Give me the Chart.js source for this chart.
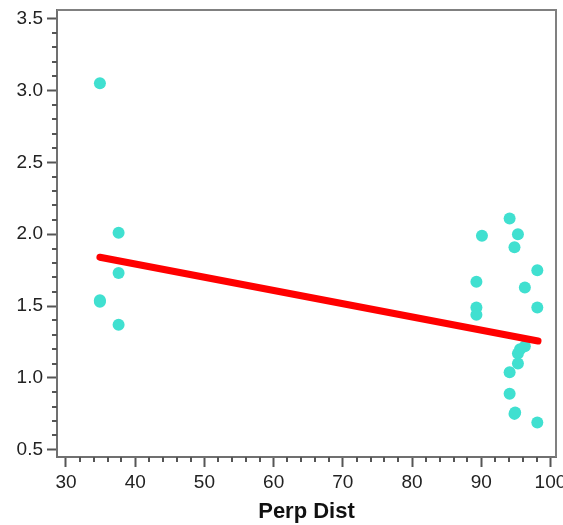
<!DOCTYPE html>
<html>
<head>
<meta charset="utf-8">
<script src="https://cdn.jsdelivr.net/npm/chart.js@4.4.0/dist/chart.umd.min.js"></script>
<style>
  html, body { margin: 0; padding: 0; background: #fff; }
  #wrap { width: 563px; height: 525px; }
</style>
</head>
<body>
<div id="wrap"><canvas id="chart" width="563" height="525"></canvas></div>
<script>
// datos
const perpDist = [34.9, 34.9, 34.9, 37.6, 37.6, 37.6,
  94.1, 90.1, 95.3, 94.8, 98.1, 89.3, 96.3, 98.1, 89.3, 89.3,
  96.3, 95.6, 95.3, 95.3, 94.1, 94.1, 94.8, 94.9, 98.1];
const valores = [3.05, 1.54, 1.53, 2.01, 1.73, 1.37,
  2.11, 1.99, 2.00, 1.91, 1.75, 1.67, 1.63, 1.49, 1.49, 1.44,
  1.22, 1.20, 1.17, 1.10, 1.04, 0.89, 0.75, 0.76, 0.69];
// recta de ajuste (extremos)
const ajusteX = [34.9, 98.2];
const ajusteY = [1.84, 1.257];

const xTicks = [30, 40, 50, 60, 70, 80, 90, 100];
const yTicks = [0.5, 1.0, 1.5, 2.0, 2.5, 3.0, 3.5];

const puntos = perpDist.map((x, i) => ({ x, y: valores[i] }));
const recta = ajusteX.map((x, i) => ({ x, y: ajusteY[i] }));

// ticks menores + marco
const marcoPlugin = {
  id: 'marco',
  afterDraw(chart) {
    const { ctx, chartArea: a, scales } = chart;
    ctx.save();
    ctx.strokeStyle = '#555';
    ctx.lineWidth = 2;
    ctx.beginPath();
    for (let v = 30; v <= 100; v += 2) {
      if (v % 10 === 0) continue;
      const px = Math.round(scales.x.getPixelForValue(v));
      ctx.moveTo(px, a.bottom); ctx.lineTo(px, a.bottom + 5);
    }
    for (let k = 5; k <= 35; k++) {
      if (k % 5 === 0) continue;
      const py = Math.round(scales.y.getPixelForValue(k / 10));
      ctx.moveTo(a.left - 5, py); ctx.lineTo(a.left, py);
    }
    ctx.stroke();
    ctx.strokeStyle = '#808080';
    ctx.beginPath();
    ctx.moveTo(a.left, a.top); ctx.lineTo(a.right, a.top); ctx.lineTo(a.right, a.bottom);
    ctx.stroke();
    ctx.restore();
  }
};

const fuente = { family: 'Arial, "Liberation Sans", sans-serif', size: 19 };

new Chart(document.getElementById('chart'), {
  type: 'scatter',
  data: {
    datasets: [
      { type: 'line', data: recta, borderColor: '#ff0000', borderWidth: 7, borderCapStyle: 'round',
        pointRadius: 0, fill: false, tension: 0 },
      { data: puntos, backgroundColor: '#40e0d0', borderWidth: 0, pointRadius: 6, pointHoverRadius: 6 }
    ]
  },
  options: {
    responsive: false,
    animation: false,
    layout: { padding: { top: 10, right: 7, left: 0, bottom: 0 } },
    plugins: { legend: { display: false }, tooltip: { enabled: false } },
    scales: {
      x: {
        type: 'linear', min: 28.7, max: 100.8,
        afterBuildTicks: s => { s.ticks = xTicks.map(v => ({ value: v })); },
        afterFit: s => { s.height = 68; s.paddingRight = 0; s.paddingLeft = 0; },
        grid: { drawOnChartArea: false, tickLength: 10, tickColor: '#555', tickWidth: 2 },
        border: { color: '#707070', width: 2 },
        ticks: { color: '#222', font: fuente, padding: 4, maxRotation: 0, autoSkip: false },
        title: { display: true, text: 'Perp Dist', color: '#111',
          font: { family: 'Arial, "Liberation Sans", sans-serif', size: 22, weight: 'bold' },
          padding: { top: 0, bottom: 0 } }
      },
      y: {
        type: 'linear', min: 0.45, max: 3.56,
        afterBuildTicks: s => { s.ticks = yTicks.map(v => ({ value: v })); },
        afterFit: s => { s.width = 57; s.paddingTop = 0; s.paddingBottom = 0; },
        grid: { drawOnChartArea: false, tickLength: 10, tickColor: '#555', tickWidth: 2 },
        border: { color: '#707070', width: 2 },
        ticks: { color: '#222', font: fuente, padding: 4, callback: v => v.toFixed(1) }
      }
    }
  },
  plugins: [marcoPlugin]
});
</script>
</body>
</html>
